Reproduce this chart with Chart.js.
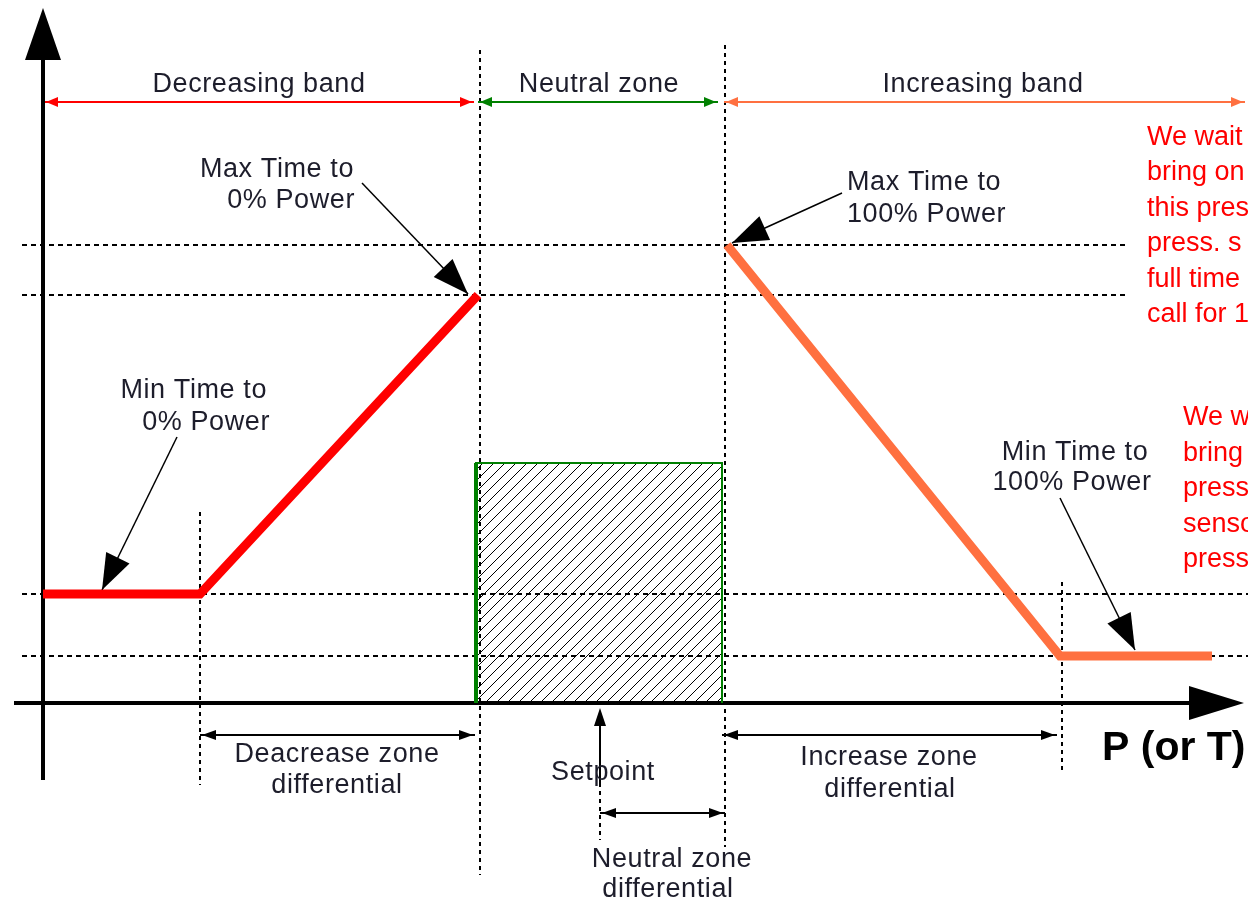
<!DOCTYPE html>
<html lang="en">
<head>
<meta charset="UTF-8" />
<script src="https://cdn.jsdelivr.net/npm/chart.js@4.4.0/dist/chart.umd.min.js"></script>
<title>Neutral zone</title>
<style>
  html, body { margin: 0; padding: 0; background: #fff; }
  canvas { display: block; }
</style>
</head>
<body>
<canvas id="chart" width="1248" height="900"></canvas>
<script>
// chart units: x = P (or T) measured from the time axis, y = time above the P axis
const xRange = [-43, 1205];
const yRange = [-197, 703];

const timeLevels = [47, 109, 408, 458]; // min 100%, min 0%, max 0%, max 100%
const decreaseX = [0, 157, 435];
const decreaseY = [109, 109, 408];
const increaseX = [684, 1017, 1169];
const increaseY = [458, 47, 47];

const neutralBox = [433, 679, 240]; // left, right, top
const setpoint = 557;

// vertical guides: [x, from y, to y]
const vGuides = [[157, 191, -82], [437, 653, -172], [682, 658, -144], [557, -80, -137], [1019, 121, -69]];
// horizontal guides: [y, from x, to x]
const hGuides = [[458, -21, 1082], [408, -21, 1082], [109, -21, 1205], [47, -21, 1205]];

const bandY = 601;
const bandEdges = [[1, 431], [435, 675], [681, 1202]];
const bandNames = ['Decreasing band', 'Neutral zone', 'Increasing band'];
const bandColors = ['#ff0000', '#008000', '#ff7040'];

// dimension arrows: [y, from x, to x]
const dims = [[-32, 157, 432], [-32, 679, 1014], [-110, 557, 682]];

// note arrows: [from x, from y, tip x, tip y]
const notes = [[319, 520, 425, 409], [134, 266, 59, 113], [799, 510, 689, 460], [1017, 205, 1092, 53]];

const noteTop = ['We wait', 'bring on', 'this pres', 'press. s', 'full time', 'call for 1'];
const noteBottom = ['We w', 'bring', 'press', 'senso', 'press'];

const labelFont = '27px "Liberation Sans", Arial, sans-serif';
const labels = [
  [bandNames[0], 216, 611, 'center'], [bandNames[1], 556, 611, 'center'], [bandNames[2], 940, 611, 'center'],
  ['Max Time to', 311, 526, 'right'], ['0% Power', 312, 495, 'right'],
  ['Min Time to', 224, 305, 'right'], ['0% Power', 227, 273, 'right'],
  ['Max Time to', 804, 513, 'left'], ['100% Power', 804, 481, 'left'],
  ['Min Time to', 1032, 243, 'center'], ['100% Power', 1029, 213, 'center'],
  ['Deacrease zone', 294, -59, 'center'], ['differential', 294, -90, 'center'],
  ['Increase zone', 846, -62, 'center'], ['differential', 847, -94, 'center'],
  ['Setpoint', 560, -77, 'center'],
  ['Neutral zone', 629, -164, 'center'], ['differential', 625, -194, 'center']
];

const zip = (xs, ys) => xs.map((x, i) => ({ x: x, y: ys[i] }));
const seg = (pts, color, width, extra) => Object.assign({
  data: pts, showLine: true, borderColor: color, borderWidth: width, pointRadius: 0, fill: false
}, extra || {});

// hatch for the neutral zone
const hatch = (() => {
  const c = document.createElement('canvas');
  c.width = 11; c.height = 11;
  const g = c.getContext('2d');
  g.strokeStyle = '#000';
  g.lineWidth = 1;
  g.beginPath();
  g.moveTo(-1, 12); g.lineTo(12, -1);
  g.moveTo(-1, 1); g.lineTo(1, -1);
  g.moveTo(10, 12); g.lineTo(12, 10);
  g.stroke();
  return g.createPattern(c, 'repeat');
})();

const datasets = [
  seg(zip(decreaseX, decreaseY), '#ff0000', 9),
  seg(zip(increaseX, increaseY), '#ff7040', 9),
  seg([{ x: neutralBox[0], y: 0 }, { x: neutralBox[0], y: neutralBox[2] }], '#008000', 4),
  seg([{ x: neutralBox[0], y: 0 }, { x: neutralBox[0], y: neutralBox[2] }, { x: neutralBox[1], y: neutralBox[2] }, { x: neutralBox[1], y: 0 }],
      '#008000', 2, { fill: 'origin', backgroundColor: hatch }),
  seg([{ x: 0, y: -77 }, { x: 0, y: 650 }], '#000', 4),
  seg([{ x: -29, y: 0 }, { x: 1150, y: 0 }], '#000', 4),
  seg([{ x: setpoint, y: -80 }, { x: setpoint, y: -10 }], '#000', 2)
];
bandEdges.forEach((b, i) => datasets.push(seg([{ x: b[0], y: bandY }, { x: b[1], y: bandY }], bandColors[i], 2)));
dims.forEach(d => datasets.push(seg([{ x: d[1], y: d[0] }, { x: d[2], y: d[0] }], '#000', 2)));
notes.forEach(n => datasets.push(seg([{ x: n[0], y: n[1] }, { x: n[2], y: n[3] }], '#000', 1.5)));
vGuides.forEach(v => datasets.push(seg([{ x: v[0], y: v[1] }, { x: v[0], y: v[2] }], '#000', 2, { borderDash: [4, 4] })));
hGuides.forEach(h => datasets.push(seg([{ x: h[1], y: h[0] }, { x: h[2], y: h[0] }], '#000', 2, { borderDash: [5, 4] })));

function head(ctx, from, to, len, half, color) {
  const a = Math.atan2(to[1] - from[1], to[0] - from[0]);
  const bx = to[0] - Math.cos(a) * len, by = to[1] - Math.sin(a) * len;
  ctx.beginPath();
  ctx.moveTo(to[0], to[1]);
  ctx.lineTo(bx + Math.sin(a) * half, by - Math.cos(a) * half);
  ctx.lineTo(bx - Math.sin(a) * half, by + Math.cos(a) * half);
  ctx.closePath();
  ctx.fillStyle = color;
  ctx.fill();
}

const decorations = {
  id: 'decorations',
  afterDatasetsDraw(chart) {
    const ctx = chart.ctx;
    const sx = chart.scales.x, sy = chart.scales.y;
    const p = (x, y) => [sx.getPixelForValue(x), sy.getPixelForValue(y)];
    ctx.save();

    // axis heads
    head(ctx, p(0, 600), p(0, 695), 52, 18, '#000');
    head(ctx, p(1100, 0), p(1201, 0), 55, 17, '#000');
    head(ctx, p(setpoint, -80), p(setpoint, -5), 18, 6, '#000');

    bandEdges.forEach((b, i) => {
      head(ctx, p(b[1], bandY), p(b[0] + 2, bandY), 12, 5, bandColors[i]);
      head(ctx, p(b[0], bandY), p(b[1] - 2, bandY), 12, 5, bandColors[i]);
    });
    dims.forEach(d => {
      head(ctx, p(d[2], d[0]), p(d[1] + 2, d[0]), 14, 5, '#000');
      head(ctx, p(d[1], d[0]), p(d[2] - 2, d[0]), 14, 5, '#000');
    });
    notes.forEach(n => head(ctx, p(n[0], n[1]), p(n[2], n[3]), 36, 13, '#000'));

    // texts
    ctx.textBaseline = 'alphabetic';
    ctx.font = labelFont;
    ctx.fillStyle = '#1d1d2b';
    ctx.letterSpacing = '0.6px';
    labels.forEach(l => {
      ctx.textAlign = l[3];
      const q = p(l[1], l[2]);
      ctx.fillText(l[0], q[0], q[1]);
    });
    ctx.letterSpacing = '0px';

    ctx.font = 'bold 41px "Liberation Sans", Arial, sans-serif';
    ctx.fillStyle = '#000';
    ctx.textAlign = 'left';
    const t = p(1059, -57);
    ctx.fillText('P (or T)', t[0], t[1]);

    ctx.font = '27px "Liberation Sans", Arial, sans-serif';
    ctx.fillStyle = '#ff0000';
    noteTop.forEach((s, i) => {
      const q = p(1104, 558 - i * 35.4);
      ctx.fillText(s, q[0], q[1]);
    });
    noteBottom.forEach((s, i) => {
      const q = p(1140, 278 - i * 35.5);
      ctx.fillText(s, q[0], q[1]);
    });
    ctx.restore();
  }
};

new Chart(document.getElementById('chart'), {
  type: 'scatter',
  data: { datasets: datasets },
  options: {
    responsive: false,
    animation: false,
    layout: { padding: 0 },
    elements: { line: { tension: 0 }, point: { radius: 0, hoverRadius: 0 } },
    plugins: { legend: { display: false }, tooltip: { enabled: false } },
    events: [],
    scales: {
      x: { type: 'linear', display: false, min: xRange[0], max: xRange[1] },
      y: { type: 'linear', display: false, min: yRange[0], max: yRange[1] }
    }
  },
  plugins: [decorations]
});
</script>
</body>
</html>
